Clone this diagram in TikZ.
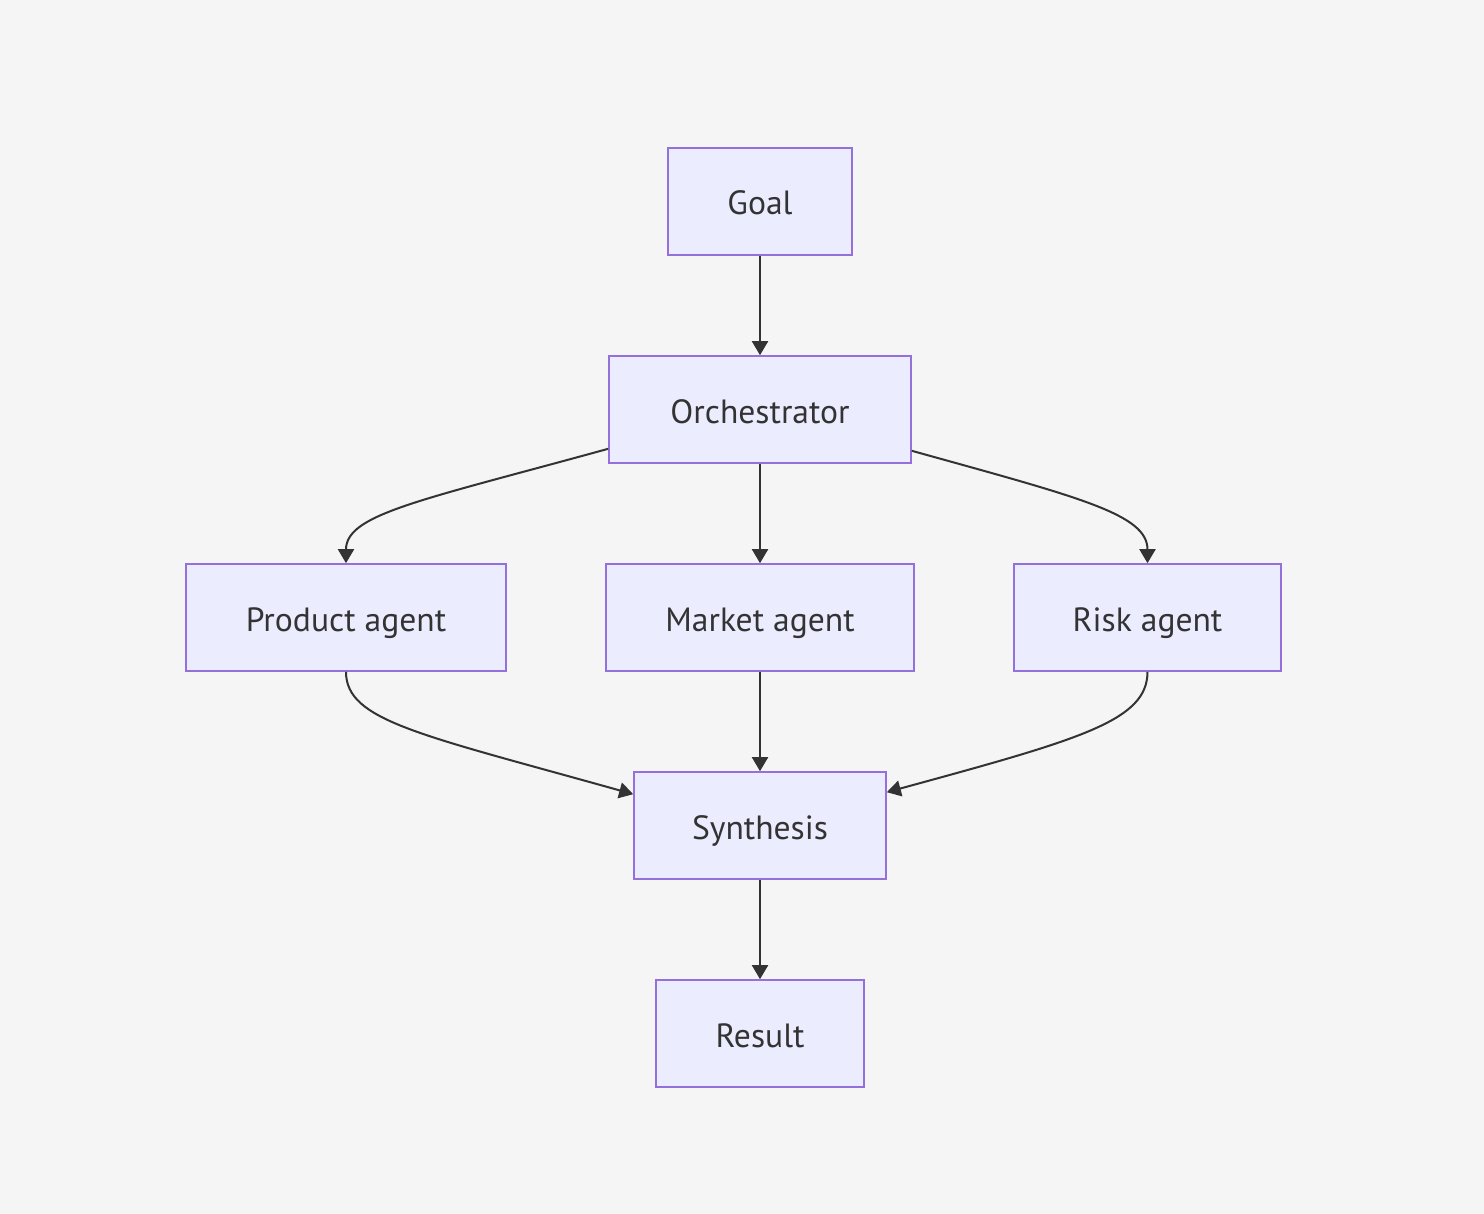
\documentclass[tikz,border=0pt]{standalone}
\usepackage{fontspec}
\setmainfont{PT Sans}
\usetikzlibrary{arrows.meta,calc}
\definecolor{bgc}{HTML}{F5F5F5}
\definecolor{nodefill}{HTML}{ECECFF}
\definecolor{nodeline}{HTML}{9370DB}
\definecolor{ink}{HTML}{333333}
\tikzset{
  box/.style={draw=nodeline, fill=nodefill, line width=0.8pt, text=ink,
    inner sep=0pt, text height=13.5pt, text depth=0pt,
    font=\fontsize{16.8}{20}\selectfont},
  edge/.style={draw=ink, line width=1pt, -{Triangle[length=7pt,width=8pt]}}
}
\begin{document}
\begin{tikzpicture}[x=0.5pt,y=-0.5pt]
\fill[bgc] (0,0) rectangle (1484,1214);
\useasboundingbox (0,0) rectangle (1484,1214);
\node[box, minimum width=92pt, minimum height=53.5pt] (goal) at (760,201.5) {Goal};
\node[box, minimum width=151pt, minimum height=53.5pt] (orch) at (760,409.5) {Orchestrator};
\node[box, minimum width=160pt, minimum height=53.5pt] (prod) at (346,617.5) {Product agent};
\node[box, minimum width=154pt, minimum height=53.5pt] (mark) at (760,617.5) {Market agent};
\node[box, minimum width=133.5pt, minimum height=53.5pt] (risk) at (1147.5,617.5) {Risk agent};
\node[box, minimum width=126pt, minimum height=53.5pt] (synth) at (760,825.5) {Synthesis};
\node[box, minimum width=104pt, minimum height=53.5pt] (res) at (760,1033.5) {Result};

\draw[edge] (goal) -- (orch);
\draw[edge] (orch) -- (mark);
\draw[edge] (mark) -- (synth);
\draw[edge] (synth) -- (res);
\draw[edge] ($(orch.south west)+(0,-15)$) .. controls +(-189,52) and +(0,-49) .. (prod.north);
\draw[edge] ($(orch.south east)+(0,-13)$) .. controls +(169,47) and +(0,-49) .. (risk.north);
\draw[edge] (prod.south) .. controls +(0,49) and +(-214,-60) .. ($(synth.north west)+(0,23)$);
\draw[edge] (risk.south) .. controls +(0,49) and +(194,-53) .. ($(synth.north east)+(0,21)$);
\end{tikzpicture}
\end{document}
